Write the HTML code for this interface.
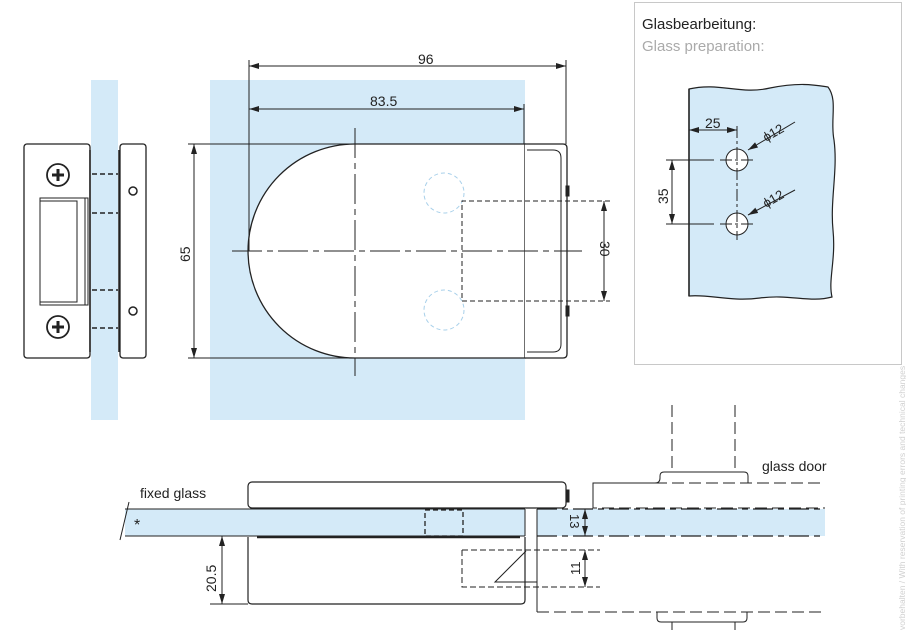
<!DOCTYPE html>
<html><head><meta charset="utf-8"><style>
html,body{margin:0;padding:0;background:#fff;width:906px;height:630px;overflow:hidden}
svg{display:block}
text{font-family:"Liberation Sans",sans-serif;fill:#222}
</style></head><body>
<svg width="906" height="630" viewBox="0 0 906 630" xmlns="http://www.w3.org/2000/svg">
<defs>
<marker id="a" viewBox="0 0 10 6" refX="10" refY="3" markerWidth="10" markerHeight="6" orient="auto-start-reverse" markerUnits="userSpaceOnUse"><path d="M0,0 L10,3 L0,6 z" fill="#222"/></marker>
</defs>
<g stroke="#222" fill="none" stroke-width="1">
<rect x="91" y="80" width="27" height="340" fill="#d4eaf8" stroke="none"/>
<rect x="24" y="144" width="66" height="214" rx="3" fill="#fff" stroke-width="1.3"/>
<rect x="120" y="144" width="26" height="214" rx="3" fill="#fff" stroke-width="1.3"/>
<line x1="90" y1="150" x2="90" y2="352" stroke-width="1.5"/>
<line x1="119" y1="150" x2="119" y2="352" stroke-width="1.5"/>
<circle cx="58" cy="175" r="11" stroke-width="1.8"/>
<path d="M52,175h12M58,169v12" stroke-width="3"/>
<circle cx="58" cy="327" r="11" stroke-width="1.8"/>
<path d="M52,327h12M58,321v12" stroke-width="3"/>
<rect x="40" y="198" width="48" height="107" fill="#fff"/>
<rect x="40" y="201" width="37" height="101"/>
<line x1="85" y1="198" x2="85" y2="305"/>
<circle cx="133" cy="191" r="4" stroke-width="1.5"/>
<circle cx="133" cy="311" r="4" stroke-width="1.5"/>
<g stroke-dasharray="5,3" stroke-width="1.5">
<line x1="92" y1="174" x2="118" y2="174"/><line x1="92" y1="213" x2="118" y2="213"/>
<line x1="92" y1="290" x2="118" y2="290"/><line x1="92" y1="328" x2="118" y2="328"/>
</g>
<rect x="210" y="80" width="315" height="340" fill="#d4eaf8" stroke="none"/>
<path d="M355,144 H525 V358 H355 A107,107 0 0 1 355,144 Z" fill="#fff" stroke-width="1.3"/>
<path d="M525,144 H563 Q567,144 567,148 V354 Q567,358 563,358 H525" stroke-width="1.3" fill="#fff"/>
<path d="M527,150 H553 Q561,150 561,158 V344 Q561,352 553,352 H527"/>
<rect x="566" y="186" width="3" height="10" fill="#222"/>
<rect x="566" y="306" width="3" height="10" fill="#222"/>
<circle cx="444" cy="193" r="20" stroke="#a8d0ea" stroke-dasharray="4,3"/>
<circle cx="444" cy="310" r="20" stroke="#a8d0ea" stroke-dasharray="4,3"/>
<path d="M610,201 H462 V301 H610" stroke-dasharray="5,3"/>
<line x1="604" y1="201" x2="604" y2="301" marker-start="url(#a)" marker-end="url(#a)"/>
<line x1="232" y1="251" x2="582" y2="251" stroke-dasharray="30,5,6,5"/>
<line x1="355" y1="128" x2="355" y2="376" stroke-dasharray="30,5,6,5"/>
<line x1="249" y1="60" x2="249" y2="251"/>
<line x1="566" y1="60" x2="566" y2="144"/>
<line x1="524" y1="104" x2="524" y2="144"/>
<line x1="249" y1="66" x2="566" y2="66" marker-start="url(#a)" marker-end="url(#a)"/>
<line x1="249" y1="109" x2="524" y2="109" marker-start="url(#a)" marker-end="url(#a)"/>
<line x1="188" y1="144" x2="355" y2="144"/>
<line x1="188" y1="358" x2="355" y2="358"/>
<line x1="194" y1="144" x2="194" y2="358" marker-start="url(#a)" marker-end="url(#a)"/>
<rect x="634.5" y="2.5" width="267" height="362" stroke="#c8c8c8"/>
<path d="M689,89 C720,82 740,95 770,88 C800,82 815,85 828,87 C838,100 830,120 834,140 C838,170 830,200 833,230 C836,260 828,280 832,297 C810,303 790,294 760,298 C730,302 710,294 689,296 Z" fill="#d4eaf8" stroke-width="1.2"/>
<line x1="689" y1="89" x2="689" y2="296" stroke-width="1.5"/>
<circle cx="737" cy="160" r="11" fill="#fff"/>
<circle cx="737" cy="224" r="11" fill="#fff"/>
<line x1="737" y1="126" x2="737" y2="240" stroke-dasharray="12,3,3,3"/>
<line x1="720" y1="160" x2="754" y2="160" stroke-dasharray="12,3,3,3"/>
<line x1="720" y1="224" x2="754" y2="224" stroke-dasharray="12,3,3,3"/>
<line x1="666" y1="160" x2="714" y2="160"/>
<line x1="666" y1="224" x2="714" y2="224"/>
<line x1="672" y1="160" x2="672" y2="224" marker-start="url(#a)" marker-end="url(#a)"/>
<line x1="689" y1="130" x2="737" y2="130" marker-start="url(#a)" marker-end="url(#a)"/>
<line x1="795" y1="122" x2="748" y2="150" marker-end="url(#a)"/>
<line x1="795" y1="190" x2="748" y2="215" marker-end="url(#a)"/>
<rect x="125" y="509" width="400" height="27" fill="#d4eaf8" stroke="none"/>
<line x1="125" y1="509" x2="525" y2="509"/>
<line x1="125" y1="536" x2="525" y2="536"/>
<line x1="257" y1="508" x2="520" y2="508" stroke-width="2.5"/>
<line x1="257" y1="537" x2="520" y2="537" stroke-width="2.5"/>
<line x1="525" y1="509" x2="525" y2="536"/>
<line x1="120" y1="540" x2="129" y2="502"/>
<rect x="248" y="482" width="318" height="26" rx="4" fill="#fff" stroke-width="1.2"/>
<rect x="566" y="490" width="3" height="12" fill="#222"/>
<path d="M248,537 V600 Q248,604 252,604 H521 Q525,604 525,600 V537" stroke-width="1.2"/>
<rect x="425" y="510" width="38" height="26" stroke-dasharray="5,3" stroke-width="1.3"/>
<line x1="222" y1="536" x2="222" y2="604" marker-start="url(#a)" marker-end="url(#a)"/>
<line x1="210" y1="604" x2="248" y2="604"/>
<rect x="537" y="509" width="288" height="27" fill="#d4eaf8" stroke="none"/>
<line x1="537" y1="509" x2="537" y2="612"/>
<path d="M537,509 H825" stroke-dasharray="20,5,6,5" stroke-width="1.3"/>
<path d="M537,536 H825" stroke-dasharray="20,5,6,5" stroke-width="1.3"/>
<path d="M593,508 V483 H655" />
<path d="M655,483 H825" stroke-dasharray="12,5"/>
<path d="M655,483 Q660,483 660,478 V476 Q660,472 664,472 H744 Q748,472 748,476 V483"/>
<path d="M672,405 V472 M735,405 V472" stroke-dasharray="12,5"/>
<path d="M593,500 V508 H825" stroke-dasharray="12,5"/>
<path d="M462,550 H600" stroke-dasharray="6,3"/>
<path d="M462,550 V587 H600" stroke-dasharray="6,3"/>
<path d="M526,551 L495,582 H537"/>
<line x1="585" y1="509" x2="585" y2="536" marker-start="url(#a)" marker-end="url(#a)"/>
<line x1="585" y1="550" x2="585" y2="587" marker-start="url(#a)" marker-end="url(#a)"/>
<path d="M537,612 H825" stroke-dasharray="12,5"/>
<path d="M657,612 V618 Q657,622 661,622 H743 Q747,622 747,618 V612"/>
<path d="M672,622 V630 M735,622 V630"/>
</g>
<text x="418" y="64" font-size="14">96</text>
<text x="370" y="106" font-size="14">83.5</text>
<text font-size="14" transform="translate(190,262) rotate(-90)">65</text>
<text font-size="14" transform="translate(600,241) rotate(90)">30</text>
<text x="642" y="29" font-size="15" fill="#222">Glasbearbeitung:</text>
<text x="642" y="51" font-size="15" style="fill:#aaa">Glass preparation:</text>
<text x="705" y="128" font-size="14">25</text>
<text font-size="14" transform="translate(668,204) rotate(-90)">35</text>
<text font-size="13" transform="translate(766,142) rotate(-30)">ϕ12</text>
<text font-size="13" transform="translate(766,208) rotate(-30)">ϕ12</text>
<text x="140" y="498" font-size="14">fixed glass</text>
<text x="134" y="530" font-size="16">*</text>
<text font-size="14" transform="translate(216,592) rotate(-90)">20.5</text>
<text x="762" y="471" font-size="14">glass door</text>
<text font-size="13" transform="translate(570,514) rotate(90)">13</text>
<text font-size="13" transform="translate(580,575) rotate(-90)">11</text>
<text font-size="8.5" style="fill:#d0d0d0" transform="translate(905,630) rotate(-90)">vorbehalten / With reservation of printing errors and technical changes</text>
</svg>
</body></html>
